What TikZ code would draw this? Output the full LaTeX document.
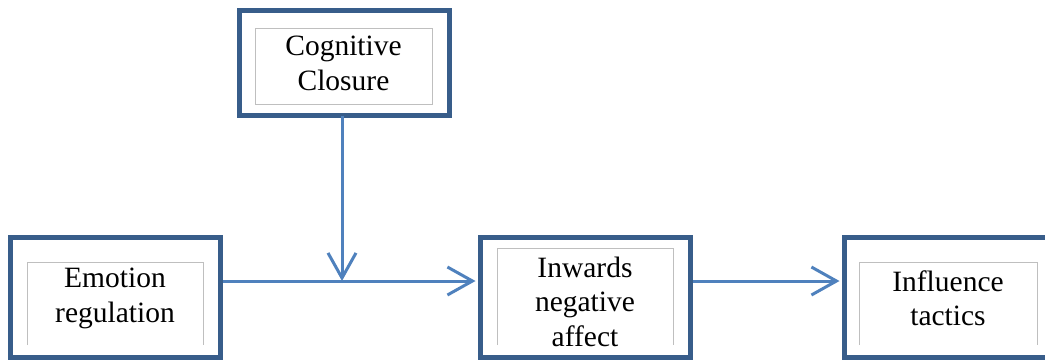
\documentclass[tikz,border=0pt]{standalone}
\usepackage{fontspec}
\setmainfont{Liberation Serif}
\usetikzlibrary{arrows.meta,positioning,calc}
\definecolor{boxblue}{RGB}{56,93,138}
\definecolor{arrowblue}{RGB}{79,129,189}
\definecolor{innergray}{RGB}{191,191,191}
\begin{document}
\begin{tikzpicture}[x=1pt,y=-1pt,
  outerbox/.style={draw=boxblue,line width=5pt,minimum width=210pt,minimum height=120pt,inner sep=0pt,fill=none},
  innerline/.style={draw=innergray,line width=0.9pt},
  label/.style={font=\fontsize{29.5}{34.5}\selectfont,align=center,inner sep=0pt},
  conn/.style={draw=arrowblue,line width=3pt,-{Straight Barb[length=25pt,width=28pt,line width=3pt]}}
]
\useasboundingbox (0,0) rectangle (1045,360);
% outer boxes
\node[outerbox,minimum height=105pt] (cc) at (344.5,63) {};
\node[outerbox] (er) at (115,297.5) {};
\node[outerbox] (ina) at (585.5,297.5) {};
\node[outerbox] (it) at (949.5,297.5) {};
% inner gray boxes
\draw[innerline] (255,28) rectangle (432,104);
\draw[innerline] (27,345) -- (27,262) -- (203,262) -- (203,345);
\draw[innerline] (497,345) -- (497,248) -- (673,248) -- (673,345);
\draw[innerline] (859,345) -- (859,262) -- (1037,262) -- (1037,345);
% labels
\node[label] (tcc) at (343.5,63.5) {Cognitive\\Closure};
\node[label] (ter) at (115,298.5) {Emotion\\regulation};
\node[label] (tina) at (585,301.5) {Inwards\\negative\\affect};
\node[label] (tit) at (948,298.5) {Influence\\tactics};
% connectors
\coordinate (j) at (342,281);
\draw[conn] ([yshift=2.5pt]cc.south -| j) -- (j);
\draw[conn] (er.east |- j) -- ([xshift=-2.5pt]ina.west |- j);
\draw[conn] (ina.east |- j) -- ([xshift=-2.5pt]it.west |- j);
\end{tikzpicture}
\end{document}
